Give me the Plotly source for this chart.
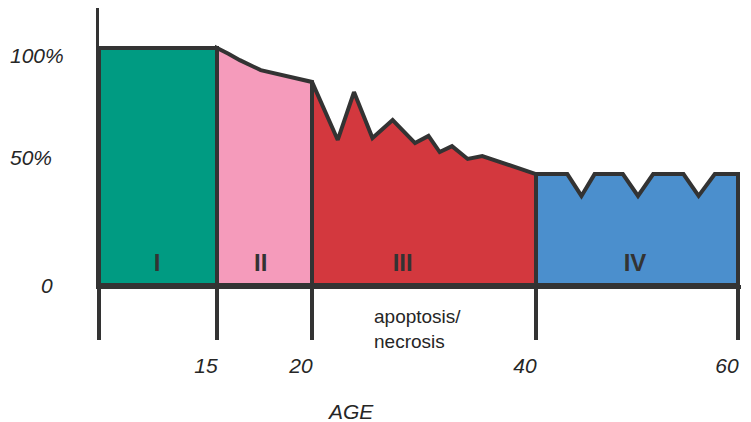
import numpy as np
import plotly.graph_objects as go

# schematic age axis: ages and where they sit on the drawing (not linear)
AGE_TICKS = [0, 15, 20, 40, 60]
AGE_POS = [0, 118, 213, 437, 639]
AGE_TICK_TEXT = ["", "15", "20", "40", "60"]

# top profile of each stage (age, % of maximum)
STAGE_I_AGE = [0, 15]
STAGE_I_PCT = [100, 100]
STAGE_II_AGE = [15, 15.6, 16.2, 17.3, 18.7, 20]
STAGE_II_PCT = [100, 97.6, 94.9, 90.7, 88.2, 85.7]
STAGE_III_AGE = [20, 22.3, 23.75, 25.4, 27.2, 29.2, 30.4, 31.4, 32.5, 33.9, 35.2, 40]
STAGE_III_PCT = [85.7, 61.2, 81.4, 62.0, 69.6, 59.9, 62.9, 56.1, 58.6, 53.2, 54.4, 46.8]
STAGE_IV_AGE = [40, 43.1, 44.5, 45.8, 48.6, 50.1, 51.6, 54.6, 56.1, 57.7, 60]
STAGE_IV_PCT = [46.8, 46.8, 37.6, 46.8, 46.8, 37.6, 46.8, 46.8, 37.6, 46.8, 46.8]

STAGE_LABELS = ["I", "II", "III", "IV"]
STAGE_LABEL_AGE = [7.4, 17.3, 28.1, 49.8]
STAGE_COLORS = ["#009b82", "#f59bbb", "#d3383e", "#4b8fcd"]

PCT_LABELS = ["100%", "50%", "0"]
PCT_LABEL_Y = [97, 54, 0]
PCT_LABEL_X = [-0.096, -0.106, -0.081]

OUTLINE = "#333333"
TEXT = "#262626"
FONT = "Liberation Sans, Arial, sans-serif"


def age_to_x(ages):
    return np.interp(ages, AGE_TICKS, AGE_POS)


stages = [
    (STAGE_I_AGE, STAGE_I_PCT),
    (STAGE_II_AGE, STAGE_II_PCT),
    (STAGE_III_AGE, STAGE_III_PCT),
    (STAGE_IV_AGE, STAGE_IV_PCT),
]

fig = go.Figure()
for (ages, pcts), color in zip(stages, STAGE_COLORS):
    xs = age_to_x([ages[0]] + ages + [ages[-1], ages[0]])
    ys = [0] + pcts + [0, 0]
    fig.add_trace(
        go.Scatter(
            x=xs,
            y=ys,
            mode="lines",
            fill="toself",
            fillcolor=color,
            line=dict(color=OUTLINE, width=4),
            hoverinfo="skip",
        )
    )

fig.add_trace(
    go.Scatter(
        x=age_to_x(STAGE_LABEL_AGE),
        y=[8.4] * len(STAGE_LABELS),
        mode="text",
        text=[f"<b>{s}</b>" for s in STAGE_LABELS],
        textfont=dict(family=FONT, size=24, color=OUTLINE),
        hoverinfo="skip",
    )
)

annotations = []
for label, x, y in zip(PCT_LABELS, PCT_LABEL_X, PCT_LABEL_Y):
    annotations.append(
        dict(
            text=f"<i>{label}</i>",
            x=x,
            xref="paper",
            y=y,
            yref="y",
            xanchor="center",
            yanchor="middle",
            showarrow=False,
            font=dict(family=FONT, size=21, color=TEXT),
        )
    )
annotations.append(
    dict(
        text="apoptosis/<br>necrosis",
        x=float(age_to_x(25.4)),
        xref="x",
        y=-0.159,
        yref="paper",
        xanchor="left",
        yanchor="middle",
        align="left",
        showarrow=False,
        font=dict(family=FONT, size=19, color=TEXT),
    )
)
annotations.append(
    dict(
        text="<i>AGE</i>",
        x=0.391,
        xref="paper",
        y=-0.458,
        yref="paper",
        xanchor="center",
        yanchor="middle",
        showarrow=False,
        font=dict(family=FONT, size=21, color=TEXT),
    )
)

# the page adds an 8px body margin, so the figure is drawn 8px smaller
fig.update_layout(
    width=743,
    height=414,
    margin=dict(l=91, r=10, t=0, b=137),
    plot_bgcolor="white",
    paper_bgcolor="white",
    showlegend=False,
    annotations=annotations,
    xaxis=dict(
        range=[0, 642],
        tickvals=age_to_x(AGE_TICKS),
        ticktext=[f"<i>{t}</i>" for t in AGE_TICK_TEXT],
        ticks="outside",
        ticklen=51,
        tickwidth=4,
        tickcolor=OUTLINE,
        ticklabelshift=-11,
        ticklabelstandoff=8,
        tickfont=dict(family=FONT, size=21, color=TEXT),
        showline=True,
        linewidth=4,
        linecolor=OUTLINE,
        showgrid=False,
        zeroline=False,
    ),
    yaxis=dict(
        range=[0, 116.9],
        showticklabels=False,
        showline=True,
        linewidth=3,
        linecolor=OUTLINE,
        showgrid=False,
        zeroline=False,
    ),
)

fig.write_html("out.html")
